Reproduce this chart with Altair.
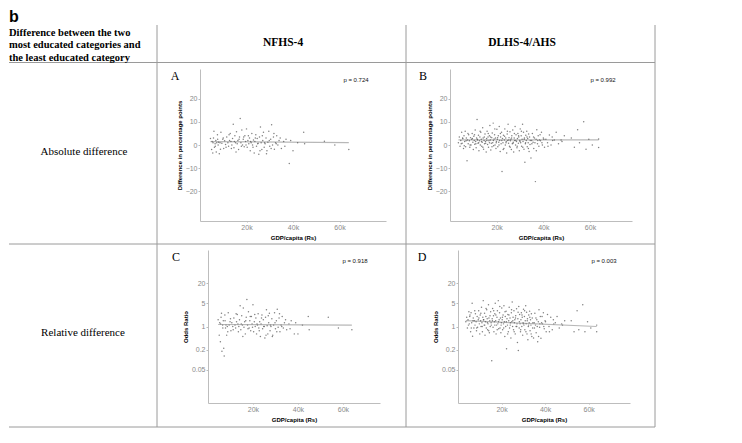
import altair as alt
import pandas as pd

# ---------------- data ----------------
nfhs_gdp = [4500, 5000, 5200, 5500, 5800, 6000, 6200, 6500, 6800, 7000,
            7200, 7500, 7800, 8000, 8300, 8600, 9000, 9400, 9800, 10200,
            10600, 11000, 11500, 12000, 12300, 12700, 13000, 13300, 13700, 14000,
            14300, 14600, 15000, 15300, 15700, 16000, 16300, 16600, 17000, 17300,
            17600, 18000, 18300, 18600, 19000, 19300, 19600, 20000, 20300, 20600,
            21000, 21300, 21600, 22000, 22300, 22600, 23000, 23300, 23600, 24000,
            24300, 24600, 25000, 25300, 25600, 26000, 26300, 26600, 27000, 27300,
            27600, 28000, 28400, 28800, 29200, 29600, 30000, 30400, 30800, 31200,
            31600, 32000, 32500, 33000, 33500, 34000, 35000, 36000, 37000, 38400,
            39000, 40000, 44600, 45000, 53500, 58000, 64000,
            5600, 6600, 7600, 8800, 10000, 11200, 12500, 13500, 14800, 15500,
            16800, 17800, 18800, 19800, 20800, 21800, 22800, 23800, 24800, 25800,
            26800, 27800, 28600, 29800, 30600, 31800, 32800, 34500, 36500, 42000]
nfhs_abs = [2.8, -2.0, 1.5, -3.5, 3.0, 6.0, -1.0, 0.5, 2.0, -3.0,
            1.0, 4.5, 0.0, 1.2, -3.8, 1.0, 5.5, 0.8, 2.5, -1.5,
            1.8, 0.2, 3.5, 1.0, -0.5, 2.0, 5.0, 1.5, 0.0, 2.8,
            9.0, -1.2, 4.0, 1.0, 5.8, 0.5, 2.0, -2.0, 3.5, 11.5,
            1.0, 6.5, 0.0, 2.5, -0.8, 4.0, 1.5, 7.0, -1.0, 2.0,
            0.5, 3.0, -2.5, 1.0, 5.0, 0.0, 2.2, -3.5, 1.5, 4.5,
            -0.5, 2.8, 0.8, -4.0, 3.5, 7.8, 1.0, -2.0, 2.0, 5.5,
            -1.0, 0.5, 3.0, -2.5, 1.2, 6.0, -0.5, 2.5, 8.8, 0.0,
            3.5, -1.8, 1.0, 4.0, 0.0, 2.0, -1.5, 1.5, 2.5, -8.0,
            2.0, -2.5, 5.5, 0.5, 1.6, 0.0, -2.0,
            1.0, -0.5, 2.5, -1.8, 3.0, -1.0, 4.5, -1.5, 1.5, -3.0,
            2.5, -0.5, 3.5, 0.0, 4.0, 1.5, -1.0, 3.0, 0.5, -2.5,
            4.0, 1.0, -3.8, 2.0, -1.5, 5.0, 0.5, 3.0, -0.5, 1.0]
nfhs_or = [1.6, 0.55, 1.3, 0.35, 1.9, 2.5, 0.18, 1.1, 1.5, 0.22,
           0.13, 2.2, 0.9, 1.1, 0.55, 1.0, 2.6, 1.1, 1.4, 0.75,
           1.3, 1.0, 1.8, 1.1, 0.9, 1.4, 2.3, 1.2, 1.0, 1.6,
           4.2, 0.8, 2.1, 1.1, 3.6, 0.95, 1.4, 0.6, 1.9, 6.5,
           1.1, 2.8, 0.9, 1.5, 0.75, 2.0, 1.2, 4.5, 0.7, 1.4,
           1.0, 1.8, 0.6, 1.1, 2.4, 0.9, 1.4, 0.5, 1.2, 2.2,
           0.85, 1.6, 1.0, 0.45, 1.9, 3.2, 1.05, 0.6, 1.3, 2.5,
           0.75, 1.0, 1.7, 0.55, 1.1, 2.6, 0.85, 1.5, 3.3, 0.95,
           1.8, 0.7, 1.1, 2.0, 0.9, 1.3, 0.8, 1.2, 1.5, 0.6,
           1.3, 0.6, 2.0, 0.8, 1.9, 0.9, 0.8,
           1.2, 0.9, 1.5, 0.7, 1.7, 0.8, 2.4, 0.7, 1.2, 0.5,
           1.5, 0.85, 2.0, 0.95, 2.3, 1.2, 0.75, 1.8, 1.0, 0.55,
           2.1, 1.1, 0.5, 1.3, 0.7, 2.4, 1.0, 1.6, 0.85, 1.1]

dlhs_gdp = [3600, 4000, 4300, 4600, 5000, 5200, 5500, 5800, 6000, 6300,
            6500, 6700, 7000, 7300, 7500, 7800, 8000, 8300, 8500, 8800,
            9000, 9300, 9500, 9800, 10000, 10200, 10400, 10600, 10800, 11000,
            11200, 11400, 11600, 11800, 12000, 12200, 12400, 12600, 12800, 13000,
            13200, 13400, 13600, 13800, 14000, 14200, 14400, 14600, 14800, 15000,
            15200, 15500, 15700, 15900, 16100, 16300, 16500, 16700, 16900, 17100,
            17300, 17500, 17700, 17900, 18100, 18300, 18500, 18700, 18900, 19100,
            19300, 19500, 19700, 19900, 20100, 20300, 20500, 20700, 20900, 21100,
            21300, 21500, 21700, 21900, 22100, 22300, 22500, 22700, 22900, 23100,
            23300, 23500, 23700, 23900, 24100, 24300, 24500, 24700, 24900, 25100,
            25300, 25500, 25700, 25900, 26100, 26300, 26500, 26700, 26900, 27100,
            27300, 27500, 27700, 27900, 28100, 28300, 28500, 28700, 28900, 29100,
            29300, 29500, 29700, 29900, 30100, 30300, 30500, 30700, 30900, 31100,
            31300, 31500, 31700, 31900, 32100, 32300, 32500, 32700, 32900, 33100,
            33300, 33500, 33700, 33900, 34100, 34300, 34700, 35000, 35300, 35600,
            35900, 36200, 36600, 36900, 37200, 37500, 37800, 38100, 38400, 38800,
            39200, 39600, 40000, 40500, 41100, 41800, 42600, 43300, 44000, 44700,
            45500, 46500, 47600, 49000, 53300, 54700, 55500, 57300, 58300, 59500,
            61000, 63700, 63700,
            4800, 5400, 6100, 6900, 7700, 8600, 9600, 10500, 11100, 11700,
            12300, 12900, 13500, 14100, 14700, 15300, 15800, 16400, 16900, 17400,
            18000, 18600, 19200, 19800, 20400, 21000, 21600, 22200, 22800, 23400,
            24000, 24600, 25200, 25800, 26400, 27000, 27600, 28200, 28800, 29400,
            30000, 30600, 31200, 31800, 32400, 33000, 33600, 34400, 35100, 35800,
            36400, 37000, 37600, 38600, 39400, 40200, 42000, 43800, 48000, 52000]
dlhs_abs = [1.0, 3.5, -0.5, 2.0, 5.5, 0.8, 2.8, -1.5, 4.0, 1.5,
            6.0, -0.8, 3.0, -6.8, 2.2, 0.5, 4.5, 1.8, -1.0, 3.2,
            0.0, 2.5, 5.0, 1.2, -2.0, 3.8, 2.0, 0.3, 6.5, 1.5,
            -1.2, 3.0, 11.1, 2.2, 0.8, 4.2, -2.5, 1.8, 3.5, 0.0,
            5.5, 2.5, -0.5, 1.2, 7.5, 3.0, -1.8, 2.0, 0.5, 4.8,
            1.5, -3.0, 2.8, 6.0, 0.2, 3.5, -1.0, 1.8, 4.0, 8.5,
            2.2, -2.2, 0.8, 3.2, 5.2, 1.0, 9.5, -0.3, 2.6, 4.5,
            0.0, 3.0, -1.5, 1.5, 6.8, 2.5, -0.8, 4.0, 1.2, 8.0,
            2.0, -2.8, 3.5, 0.5, 5.5, -11.5, 2.8, 1.0, 4.2, -1.5,
            2.2, 7.0, 0.0, 3.0, 1.5, -3.5, 4.8, 2.0, 9.0, 0.8,
            3.2, -0.5, 5.8, 1.8, 2.5, -2.0, 4.0, 0.5, 6.5, 1.2,
            -3.0, 3.0, 2.0, 8.0, 0.0, 4.5, 1.5, -1.2, 2.8, 5.0,
            0.8, 3.5, -2.5, 2.0, 7.0, 1.0, 4.0, -0.5, 2.5, 9.0,
            1.5, 5.5, -1.8, 3.0, -7.5, 0.5, 4.2, 2.0, 6.0, -0.8,
            2.8, 1.0, 4.8, -2.8, 3.5, 0.2, -5.6, 2.0, 5.0, 1.2,
            -1.5, 3.0, -15.9, 2.5, 6.6, 0.5, 4.0, -0.5, 2.2, 1.8,
            5.5, 0.0, 3.0, -1.0, 2.5, 1.0, 4.3, 0.0, 2.0, 2.2,
            5.5, 0.5, 2.2, 4.0, -1.0, 6.6, 1.0, 10.1, -1.8, 2.5,
            0.0, 2.6, -1.1,
            0.5, 3.0, -0.3, 1.8, 5.0, 0.0, 2.8, 4.5, 0.5, 2.5,
            1.0, 6.0, 1.5, -1.0, 3.5, 0.8, 2.0, 5.0, 1.0, 3.5,
            -0.8, 2.0, 7.0, 1.0, 3.2, 0.0, 5.0, 2.0, -2.0, 3.8,
            1.0, 6.0, 2.2, -1.0, 3.0, 0.8, 5.0, 2.0, -0.5, 4.0,
            1.5, 6.0, -1.0, 2.5, 1.0, 3.5, -1.5, 2.0, 0.5, 3.5,
            1.0, -2.5, 2.0, 4.5, 1.0, 2.5, -0.5, 3.5, 1.5, 3.0]
dlhs_or = [1.4, 1.9, 0.9, 1.6, 2.8, 1.2, 2.2, 0.7, 2.6, 1.3,
           5.0, 0.51, 1.8, 0.9, 1.5, 1.1, 2.4, 1.4, 0.75, 2.0,
           0.95, 1.6, 3.0, 1.2, 0.6, 2.2, 1.5, 1.0, 3.8, 1.3,
           0.7, 1.9, 6.0, 1.6, 1.1, 2.5, 0.55, 1.4, 2.0, 0.9,
           3.2, 1.7, 0.8, 1.2, 4.5, 1.8, 0.65, 1.5, 1.0, 2.8,
           1.3, 0.093, 1.7, 3.5, 0.95, 2.1, 0.7, 1.4, 2.4, 5.0,
           1.5, 0.6, 1.1, 1.9, 3.0, 1.2, 6.0, 0.85, 1.6, 2.6,
           0.9, 1.8, 0.65, 1.3, 3.6, 1.6, 0.8, 2.2, 1.2, 4.2,
           1.4, 0.5, 2.0, 1.0, 2.9, 0.215, 1.7, 1.1, 2.3, 0.7,
           1.5, 3.8, 0.9, 1.8, 1.3, 0.45, 2.6, 1.4, 5.5, 1.0,
           1.9, 0.8, 3.0, 1.3, 1.6, 0.6, 2.1, 1.0, 3.4, 1.2,
           0.33, 1.7, 0.19, 4.0, 0.9, 2.3, 1.2, 0.7, 1.6, 2.6,
           1.0, 1.9, 0.55, 1.3, 3.3, 1.1, 2.0, 0.8, 1.5, 4.2,
           1.2, 2.7, 0.6, 1.7, 0.4, 1.0, 2.2, 1.3, 2.9, 0.75,
           1.6, 1.1, 2.4, 0.5, 1.8, 0.9, 0.45, 1.3, 2.5, 1.1,
           0.65, 1.6, 0.35, 1.4, 3.2, 0.95, 2.0, 0.44, 1.3, 1.2,
           2.6, 0.85, 1.5, 0.7, 2.3, 1.0, 1.9, 0.8, 1.2, 1.3,
           2.0, 0.9, 1.2, 1.5, 0.7, 3.0, 0.8, 4.5, 0.7, 1.4,
           0.9, 1.1, 0.7,
           1.1, 2.0, 0.9, 1.5, 3.0, 0.9, 1.8, 2.5, 1.0, 1.6,
           1.1, 3.5, 1.3, 0.75, 2.1, 1.1, 1.5, 3.0, 1.1, 2.2,
           0.8, 1.4, 4.0, 1.1, 1.9, 0.9, 2.8, 1.4, 0.6, 2.2,
           1.1, 3.2, 1.5, 0.7, 1.8, 1.0, 2.7, 1.4, 0.8, 2.2,
           1.2, 3.0, 0.7, 1.5, 1.1, 1.9, 0.6, 1.3, 0.9, 1.8,
           1.0, 0.5, 1.2, 2.0, 1.0, 1.4, 0.7, 1.6, 1.1, 1.5]

fit_nfhs_gdp = [4500, 64000]
fit_nfhs_abs = [1.5, 1.0]
fit_nfhs_or = [1.15, 1.1]
fit_dlhs_gdp = [3600, 63700]
fit_dlhs_abs = [2.2, 2.2]
fit_dlhs_or = [1.5, 1.0]

p_values = ["p = 0.724", "p = 0.992", "p = 0.918", "p = 0.003"]
panel_letters = ["A", "B", "C", "D"]
col_headers = ["NFHS-4", "DLHS-4/AHS"]
row_headers = ["Absolute difference", "Relative difference"]
corner_header = ["Difference between the two", "most educated categories and",
                 "the least educated category"]
gdp_ticks = [20000, 40000, 60000]
abs_ticks = [-20, -10, 0, 10, 20]
or_ticks = [0.05, 0.2, 1, 5, 20]

# ---------------- layout ----------------
W, H = 660, 425
M = 8  # page margin: positions below are given in page pixels
SANS = "Liberation Sans"
SERIF = "Liberation Serif"
LINE = "#9a9a9a"

one = pd.DataFrame({"k": [0]})


def rule(x1, x2, y1, y2):
    return alt.Chart(one).mark_rule(color=LINE, strokeWidth=1).encode(
        x=alt.value(x1 - M), x2=alt.value(x2 - M),
        y=alt.value(y1 - M), y2=alt.value(y2 - M))


def label(text, x, y, **kw):
    return alt.Chart(one).mark_text(text=text, **kw).encode(
        x=alt.value(x - M), y=alt.value(y - M))


def panel(gdp, vals, fgdp, fvals, x0, x1, y0, y1, xmax, log):
    df = pd.DataFrame({"gdp": gdp, "v": vals})
    fd = pd.DataFrame({"gdp": fgdp, "v": fvals})
    xs = alt.Scale(domain=[0, xmax], range=[x0 - M, x1 - M], nice=False, zero=False)
    if log:
        ys = alt.Scale(type="log", domain=[0.005, 200], range=[y1 - M, y0 - M], nice=False)
        ya = alt.Axis(orient="left", offset=-(x0 - M), values=or_ticks, format="~g",
                      title="Odds Ratio")
    else:
        ys = alt.Scale(domain=[-33, 33], range=[y1 - M, y0 - M], nice=False, zero=False)
        ya = alt.Axis(orient="left", offset=-(x0 - M), values=abs_ticks, format="d",
                      title="Difference in percentage points")
    xa = alt.Axis(orient="bottom", offset=(y1 - M) - H, values=gdp_ticks, format="~s",
                  title="GDP/capita (Rs)", labelFlush=False)
    fit = alt.Chart(fd).mark_line(color="#b8b8b8", strokeWidth=1.2).encode(
        x=alt.X("gdp:Q", scale=xs, axis=xa), y=alt.Y("v:Q", scale=ys, axis=ya))
    pts = alt.Chart(df).mark_circle(size=2.2, color="#555555", opacity=0.75).encode(
        x=alt.X("gdp:Q", scale=xs, axis=xa), y=alt.Y("v:Q", scale=ys, axis=ya))
    return alt.layer(fit, pts)


decor = [
    # table lines
    rule(156, 156, 25, 427), rule(405, 405, 25, 427), rule(654, 654, 25, 427),
    rule(8, 654, 62.5, 62.5), rule(8, 654, 244, 244), rule(8, 654, 427, 427),
    # texts
    label("b", 8, 9, font=SANS, fontSize=16, fontWeight="bold", align="left",
          baseline="top", color="black"),
    label(corner_header, 8, 32.5, font=SERIF, fontSize=10.5, fontWeight="bold",
          align="left", baseline="middle", lineHeight=12.7, color="black"),
    label(col_headers[0], 282, 43, font=SERIF, fontSize=11.5, fontWeight="bold",
          align="center", baseline="middle", color="black"),
    label(col_headers[1], 521, 43, font=SERIF, fontSize=11.5, fontWeight="bold",
          align="center", baseline="middle", color="black"),
    label(row_headers[0], 83, 152, font=SERIF, fontSize=11, align="center",
          baseline="middle", color="black"),
    label(row_headers[1], 82, 333, font=SERIF, fontSize=11, align="center",
          baseline="middle", color="black"),
    label(panel_letters[0], 174, 76, font=SERIF, fontSize=12, align="center",
          baseline="middle", color="black"),
    label(panel_letters[1], 422, 76, font=SERIF, fontSize=12, align="center",
          baseline="middle", color="black"),
    label(panel_letters[2], 175, 257, font=SERIF, fontSize=12, align="center",
          baseline="middle", color="black"),
    label(panel_letters[3], 421, 257, font=SERIF, fontSize=12, align="center",
          baseline="middle", color="black"),
    label(p_values[0], 355, 80, font=SANS, fontSize=6, align="center",
          baseline="middle", color="#111111"),
    label(p_values[1], 602, 80, font=SANS, fontSize=6, align="center",
          baseline="middle", color="#111111"),
    label(p_values[2], 354, 261, font=SANS, fontSize=6, align="center",
          baseline="middle", color="#111111"),
    label(p_values[3], 603, 261, font=SANS, fontSize=6, align="center",
          baseline="middle", color="#111111"),
]

pA = panel(nfhs_gdp, nfhs_abs, fit_nfhs_gdp, fit_nfhs_abs, 199, 385, 69, 221, 80000, False)
pB = panel(dlhs_gdp, dlhs_abs, fit_dlhs_gdp, fit_dlhs_abs, 449, 631, 69, 221, 78000, False)
pC = panel(nfhs_gdp, nfhs_or, fit_nfhs_gdp, fit_nfhs_or, 207, 379, 250, 403, 76500, True)
pD = panel(dlhs_gdp, dlhs_or, fit_dlhs_gdp, fit_dlhs_or, 457, 629, 250, 403, 79000, True)

chart = alt.layer(*decor, pA, pB, pC, pD).resolve_scale(
    x="independent", y="independent"
).resolve_axis(
    x="independent", y="independent"
).properties(
    width=W, height=H, padding=0
).configure_view(
    stroke=None
).configure_axis(
    grid=False, domainColor="#bdbdbd", domainWidth=1, tickColor="#bdbdbd",
    labelColor="#8a8a8a", labelFont=SANS, labelFontSize=7, labelPadding=1,
    titleFont=SANS, titleFontSize=6, titleFontWeight="bold", titleColor="black"
).configure_axisX(
    tickSize=1, titlePadding=4
).configure_axisY(
    tickSize=2, titlePadding=3
)

chart.save("out.html", embed_options={"renderer": "svg", "actions": False})
